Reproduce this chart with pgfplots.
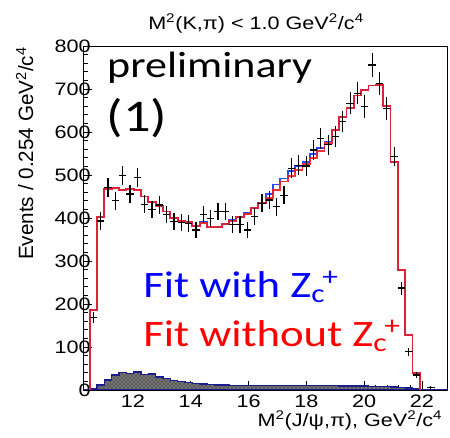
\documentclass[border=0pt]{standalone}
\usepackage{fontspec}
\setmainfont{Liberation Sans}[FakeStretch=1.2]
\newfontfamily\plainsans{Liberation Sans}
\newfontfamily\calib{Carlito}[FakeStretch=1.2]
\usepackage{pgfplots}
\pgfplotsset{compat=1.18}
\usepackage{pgfplotstable}
\usetikzlibrary{patterns}

\definecolor{fitred}{RGB}{238,30,35}
\definecolor{fitblue}{RGB}{35,75,255}
\definecolor{bkgnavy}{RGB}{25,30,140}

% M^2(J/psi,pi) histogram, bins of 0.254 GeV^2/c^4
% lo = left bin edge, mid = bin centre
\pgfplotstableread{
lo     mid     data err with without bkg
10.500 10.500  nan  0   0    0     0
10.500 10.627  169  13  186  186   3
10.754 10.881  393  20  403  403   12
11.008 11.135  470  22  467  467   23
11.262 11.389  440  21  470  470   35
11.516 11.643  498  22  466  466   40
11.770 11.897  456  21  467  467   39
12.024 12.151  494  22  466  466   42
12.278 12.405  432  21  450  450   36
12.532 12.659  419  20  438  438   37
12.786 12.913  430  21  427  427   30
13.040 13.167  409  20  415  415   27
13.294 13.421  391  20  400  400   22
13.548 13.675  389  20  393  393   19
13.802 13.929  387  20  390  390   17
14.056 14.183  372  19  382  382   15
14.310 14.437  409  20  390  388   14
14.564 14.691  399  20  378  379   13
14.818 14.945  415  20  380  380   12
15.072 15.199  415  20  387  386   12
15.326 15.453  384  20  395  394   11
15.580 15.707  384  20  403  402   11
15.834 15.961  372  19  411  410   11
16.088 16.215  403  20  423  423   11
16.342 16.469  434  21  436  434   11
16.596 16.723  442  21  455  447   11
16.850 16.977  426  21  478  465   11
17.104 17.231  453  21  492  485   11
17.358 17.485  516  23  510  498   11
17.612 17.739  523  23  520  512   11
17.866 17.993  521  23  530  525   10
18.120 18.247  558  24  548  540   10
18.374 18.501  585  24  562  555   10
18.628 18.755  570  24  578  575   10
18.882 19.009  589  24  605  605   10
19.136 19.263  624  25  635  635   9
19.390 19.517  667  26  655  655   9
19.644 19.771  690  26  685  685   9
19.898 20.025  659  26  698  698   9
20.152 20.279  756  27  708  708   8
20.406 20.533  713  27  709  709   8
20.660 20.787  655  26  660  660   8
20.914 21.041  543  23  530  530   7
21.168 21.295  237  15  279  279   6
21.422 21.549  89   9   128  128   5
21.676 21.803  35   6   40   40    3
21.930 22.311  6    3   0    0     0
}\bins

\begin{document}
\begin{tikzpicture}
\begin{axis}[
  scale only axis, width=273pt, height=258pt,
  xmin=10.27, xmax=22.87, ymin=0, ymax=800,
  axis line style={black, line width=0.6pt},
  xtick={12,14,...,22}, ytick={0,100,...,800},
  minor x tick num=4, minor y tick num=4,
  xtick pos=left, ytick pos=left, tick align=inside,
  major tick length=7pt, minor tick length=3.5pt,
  tick style={black, line width=0.5pt},
  /pgf/number format/assume math mode=true,
  tick label style={font=\fontsize{13.5}{15}\selectfont},
  yticklabel style={inner xsep=1pt, xshift=7pt},
  clip mode=individual,
]
% background component: dark checkered fill with navy outline
\addplot[const plot mark left, fill=black!65, draw=none] table[x=lo, y=bkg] {\bins} \closedcycle;
\addplot[const plot mark left, pattern=crosshatch dots, pattern color=black!15, draw=none] table[x=lo, y=bkg] {\bins} \closedcycle;
\addplot[const plot mark left, bkgnavy, line width=1pt] table[x=lo, y=bkg] {\bins};
\addplot[bkgnavy, line width=1pt] coordinates {(10.27,0) (22.87,0)};
% fit with Zc+ (blue), fit without Zc+ (red) on top
\addplot[const plot mark left, fitblue, line width=1.4pt] table[x=lo, y=with] {\bins};
\addplot[const plot mark left, fitred, line width=1.4pt, opacity=0.9] table[x=lo, y=without] {\bins};
% data points
\addplot[only marks, mark=*, mark size=0pt, mark options={draw=none, fill=none},
  error bars/.cd, x dir=both, x fixed=0.127, y dir=both, y explicit,
  error mark=none, error bar style={black, line width=0.9pt}]
  table[x=mid, y=data, y error=err] {\bins};

\node[anchor=base, font=\fontsize{13.5}{15}\selectfont] at (axis cs:16.26,839.5)
  {M\textsuperscript{2}(K,π) < 1.0 GeV\textsuperscript{2}/c\textsuperscript{4}};
\node[anchor=base east, font=\fontsize{13.5}{15}\selectfont] at (axis cs:22.87,-85.3)
  {M\textsuperscript{2}(J/ψ,π), GeV\textsuperscript{2}/c\textsuperscript{4}};
\node[rotate=90, anchor=base east, inner sep=0pt] at (axis cs:8.54,798)
  {\plainsans\fontsize{15.5}{17}\selectfont Events / 0.254 GeV\textsuperscript{2}/c\textsuperscript{4}};

\node[anchor=base west, inner sep=0pt, font=\calib\fontsize{27.5}{30}\selectfont] at (axis cs:11.10,725.6) {preliminary};
\node[anchor=base west, inner sep=0pt, font=\calib\fontsize{34}{36}\selectfont] at (axis cs:11.08,600) {(1)};
\node[anchor=base west, inner sep=0pt, text=blue, font=\calib\fontsize{28}{31}\selectfont] at (axis cs:12.35,214)
  {Fit with Z\textsubscript{c}\kern-0.08em\textsuperscript{+}};
\node[anchor=base west, inner sep=0pt, text=red, font=\calib\fontsize{28}{31}\selectfont] at (axis cs:12.35,100)
  {Fit without Z\textsubscript{c}\kern-0.08em\textsuperscript{+}};
\end{axis}
\path ([shift={(-62.25pt,-36pt)}]current axis.south west) rectangle ([shift={(2.25pt,34.5pt)}]current axis.north east);
\end{tikzpicture}
\end{document}
